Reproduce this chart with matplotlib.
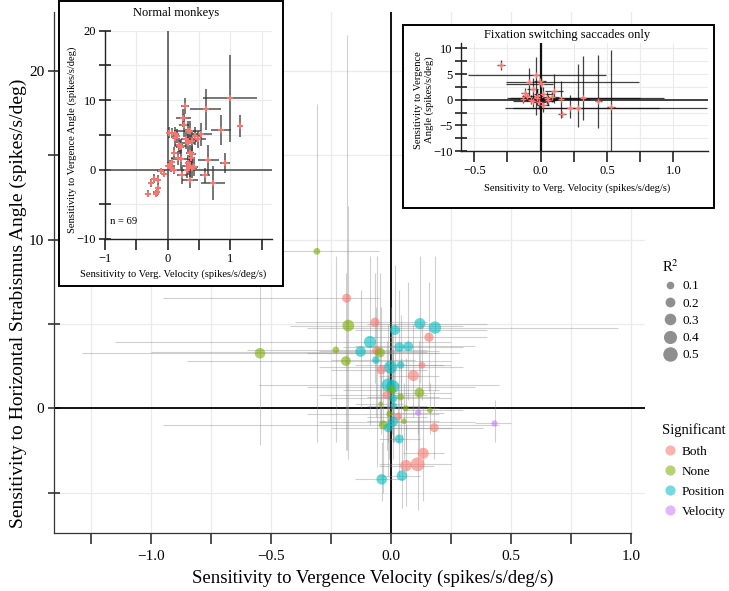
import matplotlib
matplotlib.use("Agg")
import matplotlib.pyplot as plt
import numpy as np
from matplotlib.lines import Line2D
from matplotlib.patches import Rectangle

plt.rcParams['font.family'] = ['Liberation Serif', 'DejaVu Serif']
plt.rcParams['mathtext.fontset'] = 'stix'

# ---------------- main data ----------------
main_x = [-0.186, -0.068, -0.179, 0.015, 0.119, 0.182, 0.157, -0.089, 0.033, 0.071,
          -0.231, -0.128, -0.061, -0.047, -0.547, -0.189, -0.064, 0.039, 0.128, -0.003,
          -0.042, 0.092, -0.013, 0.006, 0.001, -0.019, 0.117, 0.039, 0.008, -0.044,
          0.011, 0.060, 0.161, 0.112, -0.008, 0.028, 0.053, 0.008, -0.033, -0.013,
          0.179, 0.033, 0.133, 0.110, 0.061, 0.044, -0.040, -0.310, 0.430]
main_y = [6.52, 5.09, 4.90, 4.64, 5.02, 4.78, 4.21, 3.93, 3.63, 3.67,
          3.46, 3.36, 3.42, 3.30, 3.26, 2.80, 2.86, 2.57, 2.55, 2.43,
          2.27, 1.94, 1.38, 1.28, 1.09, 0.79, 0.93, 0.67, 0.59, 0.26,
          0.16, 0.00, -0.12, -0.26, -0.34, -0.49, -0.77, -0.79, -0.99, -1.15,
          -1.15, -1.82, -2.67, -3.32, -3.40, -3.99, -4.21, 9.30, -0.90]
main_sig = ['Both', 'Both', 'None', 'Position', 'Position', 'Position', 'Both', 'Position', 'Position', 'Position',
            'None', 'Position', 'Both', 'None', 'None', 'None', 'Position', 'Position', 'Both', 'Position',
            'Both', 'Both', 'Position', 'Position', 'None', 'Both', 'None', 'None', 'Position', 'None',
            'Position', 'None', 'None', 'Velocity', 'None', 'Both', 'None', 'Position', 'None', 'Position',
            'Both', 'Position', 'Both', 'Both', 'Both', 'Position', 'Position', 'None', 'Velocity']
main_r2 = [0.16, 0.18, 0.31, 0.21, 0.27, 0.35, 0.17, 0.33, 0.20, 0.20,
           0.07, 0.24, 0.16, 0.20, 0.24, 0.20, 0.10, 0.10, 0.07, 0.40,
           0.16, 0.27, 0.40, 0.40, 0.16, 0.13, 0.20, 0.07, 0.13, 0.01,
           0.05, 0.04, 0.03, 0.05, 0.05, 0.10, 0.03, 0.20, 0.16, 0.16,
           0.16, 0.16, 0.27, 0.45, 0.30, 0.24, 0.24, 0.07, 0.05]
main_xlo = [-0.95, -0.40, -0.42, -0.15, -0.10, -0.35, -0.10, -1.15, -0.20, -0.15,
            -0.60, -1.00, -0.30, -0.35, -1.29, -0.85, -0.25, -0.15, -0.05, -0.30,
            -0.25, -0.05, -0.55, -0.35, -0.20, -0.30, 0.00, -0.10, -0.25, -0.15,
            -0.10, -0.05, 0.05, 0.00, -0.35, -0.10, -0.10, -0.30, -0.95, -0.25,
            0.00, -0.05, 0.05, -0.05, -0.05, -0.05, -0.15, -0.55, 0.35]
main_xhi = [-0.05, 0.15, 0.30, 0.40, 0.40, 0.946, 0.40, 0.25, 0.30, 0.35,
            0.15, 0.15, 0.20, 0.28, 0.20, 0.25, 0.10, 0.22, 0.25, 0.30,
            0.15, 0.20, 0.45, 0.35, 0.20, 0.15, 0.25, 0.20, 0.25, 0.05,
            0.15, 0.20, 0.30, 0.22, 0.20, 0.15, 0.20, 0.35, 0.45, 0.25,
            0.38, 0.12, 0.22, 0.25, 0.18, 0.12, 0.05, -0.05, 0.50]
main_ylo = [-2.5, 1.5, -3.0, 1.0, 1.5, 1.0, 1.0, -1.0, 0.5, 0.5,
            -2.0, 0.0, -3.5, -1.0, -2.2, -2.5, -0.5, 0.0, 0.5, -1.0,
            -1.5, -0.5, -2.0, -2.0, -1.5, -2.5, -2.5, -1.5, -2.0, -1.0,
            -2.0, -2.5, -1.5, -1.5, -3.0, -2.0, -3.0, -3.0, -5.0, -4.0,
            -3.0, -4.0, -5.5, -6.0, -5.8, -5.9, -5.5, -2.0, -2.0]
main_yhi = [22.1, 8.0, 12.0, 8.5, 9.0, 9.0, 7.5, 9.0, 7.0, 7.5,
            9.0, 7.0, 9.0, 8.0, 7.5, 8.0, 6.0, 5.5, 5.0, 6.0,
            6.0, 5.0, 5.0, 4.5, 4.5, 4.0, 4.0, 3.0, 3.5, 2.0,
            2.5, 3.0, 1.5, 1.0, 2.5, 1.5, 1.5, 1.5, 2.5, 2.0,
            1.0, 0.5, 0.0, -0.5, -1.0, -1.5, -2.0, 18.0, 0.5]

# ---------------- inset 1 data (normal monkeys) ----------------
n1_x = [0.995, 1.154, 0.606, 0.846, 0.915, 0.650, 0.730, 0.600, 0.277, 0.250,
        0.266, 0.064, 0.117, 0.144, 0.020, 0.180, 0.213, 0.320, 0.356, 0.383,
        0.540, 0.490, 0.436, 0.330, 0.356, 0.096, 0.170, 0.213, 0.330, 0.356,
        0.383, 0.330, 0.303, 0.074, 0.037, 0.053, 0.096, 0.234, 0.356, 0.372,
        0.394, -0.319, -0.271, -0.213, -0.176, -0.149, -0.186, -0.106, -0.059, 0.010,
        -0.149, 0.120, 0.200, 0.300, 0.420]
n1_y = [10.27, 6.27, 8.67, 5.69, 0.96, 1.35, -1.93, -0.82, 9.16, 7.37,
        6.36, 5.30, 5.06, 4.80, 5.30, 3.60, 3.37, 5.54, 5.54, 4.10,
        5.06, 4.34, 4.82, 3.86, 2.41, 2.41, 1.69, 1.45, 0.96, 0.48,
        0.24, 0.48, 0.00, 1.06, 0.72, 0.24, 0.00, -0.82, -1.45, 1.69,
        2.17, -3.47, -1.93, -1.30, -3.23, -2.65, -3.47, -0.24, -0.58, 0.48,
        -1.45, 4.50, 3.20, 4.40, 0.30]
n1_xe = [0.43, 0.05, 0.25, 0.16, 0.08, 0.17, 0.19, 0.08, 0.06, 0.12,
         0.08, 0.05, 0.06, 0.06, 0.05, 0.07, 0.08, 0.22, 0.10, 0.10,
         0.17, 0.12, 0.10, 0.10, 0.06, 0.05, 0.06, 0.16, 0.06, 0.08,
         0.08, 0.10, 0.06, 0.05, 0.05, 0.05, 0.04, 0.08, 0.13, 0.06,
         0.06, 0.04, 0.05, 0.06, 0.05, 0.05, 0.05, 0.06, 0.05, 0.04,
         0.05, 0.05, 0.06, 0.08, 0.06]
n1_ye = [6.3, 1.6, 2.9, 2.2, 1.4, 2.2, 2.4, 1.1, 1.2, 1.3,
         1.6, 0.7, 1.0, 1.0, 0.8, 1.0, 1.0, 1.5, 1.5, 1.4,
         1.6, 1.2, 1.3, 1.5, 1.2, 0.8, 1.0, 1.4, 1.2, 1.9,
         1.4, 1.2, 1.2, 0.7, 0.6, 0.6, 0.7, 1.2, 1.2, 1.2,
         1.2, 0.5, 0.6, 0.6, 0.6, 0.6, 0.5, 0.4, 0.5, 0.6,
         0.6, 1.2, 1.0, 1.5, 1.2]
n1_label = "n = 69"

# ---------------- inset 2 data (fixation switching saccades) ----------------
f2_x = [-0.302, -0.035, -0.005, 0.005, -0.085, -0.118, -0.060, 0.103, 0.020, -0.030,
        0.045, 0.083, 0.151, 0.317, 0.435, 0.528, 0.221, 0.284, 0.158, -0.010,
        -0.055, 0.015, -0.075, -0.025, 0.058, -0.130, -0.105]
f2_y = [6.69, 4.87, 3.70, 3.12, 3.44, 1.30, 2.14, 1.62, 1.17, 0.32,
        0.32, 0.52, 0.13, 0.26, -0.19, -1.36, -1.69, -1.69, -2.86, -0.52,
        -0.32, -0.97, 0.00, 0.78, -0.13, 0.19, 0.65]
f2_xlo = [-0.33, -0.545, -0.05, -0.26, -0.26, -0.15, -0.10, 0.03, -0.05, -0.256,
          -0.23, 0.02, -0.08, 0.29, 0.41, 0.50, -0.21, -0.27, 0.13, -0.06,
          -0.21, -0.03, -0.12, -0.07, 0.00, -0.16, -0.14]
f2_xhi = [-0.27, 0.490, 0.04, 0.09, 0.74, -0.09, -0.02, 0.17, 0.09, 0.925,
          0.75, 0.14, 0.37, 0.35, 0.46, 0.56, 0.89, 1.25, 0.19, 0.04,
          0.10, 0.06, -0.03, 0.02, 0.12, -0.10, -0.07]
f2_ylo = [5.7, -2.9, 2.4, 2.0, 0.7, 0.4, 0.2, -0.6, 0.0, -1.0,
          -0.8, -0.5, -3.6, -4.0, -5.5, -10.1, -3.5, -5.4, -3.3, -1.8,
          -1.5, -2.3, -0.8, -0.3, -1.0, -0.6, 0.0]
f2_yhi = [7.7, 8.25, 5.0, 4.5, 6.2, 2.2, 4.3, 5.0, 2.5, 2.0,
          1.6, 1.5, 3.6, 8.6, 8.8, 9.7, 1.0, 6.9, -2.4, 0.7,
          1.0, 0.3, 1.0, 2.0, 1.0, 1.0, 1.4]

sig_levels = ['Both', 'None', 'Position', 'Velocity']
sig_colors = {'Both': '#F8766D', 'None': '#7CAE00', 'Position': '#00BFC4', 'Velocity': '#C77CFF'}
r2_breaks = [0.1, 0.2, 0.3, 0.4, 0.5]

# ---------------- figure ----------------
W, H = 729, 591
fig = plt.figure(figsize=(W / 100, H / 100), dpi=100)


def fx(px):
    return px / W


def fy(py):
    return 1 - py / H


def diam(r2):
    return np.sqrt(20 + 380 * np.asarray(r2, float))   # diameter in px


def size_of(r2):
    return (diam(r2) * 0.72) ** 2


GRID = '#EBEBEB'
AXC = '#333333'

# ---- main axes ----
ax = fig.add_axes([fx(54.3), fy(533), fx(645) - fx(54.3), fy(12) - fy(533)])
ax.set_xlim(-1.404, 1.057)
ax.set_ylim(-7.39, 23.48)
xt = np.arange(-1.25, 1.001, 0.25)
ax.set_xticks(xt)
ax.set_xticklabels(['' if abs((v * 2) - round(v * 2)) > 1e-6 else ('%.1f' % v).replace('-', '\u2212') for v in xt])
yt = np.arange(-5, 20.1, 5)
ax.set_yticks(yt)
ax.set_yticklabels(['%d' % v if v % 10 == 0 else '' for v in yt])
ax.tick_params(axis='x', direction='out', length=8, width=1.1, color='#222222', labelsize=11, pad=4)
ax.tick_params(axis='y', direction='inout', length=8.6, width=1.1, color='#222222', labelsize=11, pad=3)
for s in ['top', 'right']:
    ax.spines[s].set_visible(False)
ax.spines['left'].set_color(AXC)
ax.spines['bottom'].set_color(AXC)
ax.spines['left'].set_linewidth(0.9)
ax.spines['bottom'].set_linewidth(0.9)
ax.spines['bottom'].set_bounds(-1.404, 1.0)
ax.grid(True, color=GRID, lw=0.9, zorder=0)
ax.set_axisbelow(True)
ax.axhline(0, color='black', lw=1.3, zorder=2)
ax.axvline(0, color='black', lw=1.3, zorder=2)

ax.hlines(main_y, main_xlo, main_xhi, color='#8a8a8a', alpha=0.4, lw=0.8, zorder=3)
ax.vlines(main_x, main_ylo, main_yhi, color='#8a8a8a', alpha=0.4, lw=0.8, zorder=3)
cols = [sig_colors[s] for s in main_sig]
ax.scatter(main_x, main_y, s=size_of(main_r2), c=cols, alpha=0.6, linewidths=0, zorder=4)

fig.text(fx(373), fy(578), 'Sensitivity to Vergence Velocity (spikes/s/deg/s)', ha='center', va='center',
         fontsize=13.5)
fig.text(fx(18), fy(303), 'Sensitivity to Horizontal Strabismus Angle (spikes/s/deg)', ha='center', va='center',
         rotation=90, fontsize=14)

# ---- legends ----
h_r2 = [Line2D([], [], ls='', marker='o', markersize=diam(r) * 0.72,
               markerfacecolor='#444444', markeredgewidth=0, alpha=0.6) for r in r2_breaks]
leg1 = fig.legend(h_r2, ['%.1f' % r for r in r2_breaks], title='R$^2$', loc='upper left',
                  bbox_to_anchor=(fx(655), fy(252)), frameon=False, fontsize=9.5, title_fontsize=10.5,
                  alignment='left', handletextpad=0.25, labelspacing=0.38, handlelength=1.3, borderpad=0)
h_sig = [Line2D([], [], ls='', marker='o', markersize=8.5 * 0.72 * 1.2,
                markerfacecolor=sig_colors[s], markeredgewidth=0, alpha=0.55) for s in sig_levels]
leg2 = fig.legend(h_sig, sig_levels, title='Significant', loc='upper left',
                  bbox_to_anchor=(fx(655), fy(417)), frameon=False, fontsize=9.5, title_fontsize=10.5,
                  alignment='left', handletextpad=0.25, labelspacing=0.6, handlelength=1.3, borderpad=0)


def inset_common(a, xticks, xlabels, yticks, ylabels):
    a.set_facecolor('white')
    a.set_xticks(xticks)
    a.set_xticklabels(xlabels)
    a.set_yticks(yticks)
    a.set_yticklabels(ylabels)
    for s in ['top', 'right']:
        a.spines[s].set_visible(False)
    for s in ['left', 'bottom']:
        a.spines[s].set_color('#222222')
        a.spines[s].set_linewidth(1.0)
    a.grid(True, color=GRID, lw=0.8)
    a.set_axisbelow(True)
    a.tick_params(axis='x', direction='out', length=8, width=1.2, color='#222222', labelsize=9, pad=2)
    a.tick_params(axis='y', direction='inout', length=9, width=1.2, color='#222222', labelsize=9, pad=2)


# ---- inset 1 ----
fig.patches.append(Rectangle((fx(59), fy(286)), fx(283) - fx(59), fy(0.8) - fy(286), transform=fig.transFigure,
                             facecolor='white', edgecolor='black', lw=1.4, zorder=2))
a1 = fig.add_axes([fx(105), fy(239), fx(272.3) - fx(105), fy(30.7) - fy(239)], zorder=3)
a1.set_xlim(-1, 1.67)
a1.set_ylim(-10, 20)
inset_common(a1, [-1, -0.5, 0, 0.5, 1, 1.5], ['\u22121', '', '0', '', '1', ''],
             [-10, -5, 0, 5, 10, 15, 20], ['\u221210', '', '0', '', '10', '', '20'])
a1.axhline(0, color='#555555', lw=1.2, zorder=1)
a1.axvline(0, color='#555555', lw=1.2, zorder=1)
a1.errorbar(n1_x, n1_y, xerr=n1_xe, yerr=n1_ye, fmt='none', ecolor='#3a3a3a', alpha=0.75, elinewidth=1.3, zorder=2)
a1.plot(n1_x, n1_y, ls='', marker='+', color='#F8766D', markersize=5, mew=1.4, zorder=3)
fig.text(fx(176), fy(13), 'Normal monkeys', ha='center', va='center', fontsize=9)
fig.text(fx(173), fy(274), 'Sensitivity to Verg. Velocity (spikes/s/deg/s)', ha='center', va='center', fontsize=7.6)
fig.text(fx(72), fy(140), 'Sensitivity to Vergence Angle (spikes/s/deg)', ha='center', va='center',
         rotation=90, fontsize=7.6)
fig.text(fx(110), fy(222), n1_label, ha='left', va='center', fontsize=7.6)

# ---- inset 2 ----
fig.patches.append(Rectangle((fx(402.7), fy(208.3)), fx(714) - fx(402.7), fy(25) - fy(208.3), transform=fig.transFigure,
                             facecolor='white', edgecolor='black', lw=1.4, zorder=2))
a2 = fig.add_axes([fx(461), fy(151), fx(708) - fx(461), fy(43.3) - fy(151)], zorder=3)
a2.set_xlim(-0.6, 1.26)
a2.set_ylim(-10, 11)
inset_common(a2, [-0.5, -0.25, 0, 0.25, 0.5, 0.75, 1.0], ['\u22120.5', '', '0.0', '', '0.5', '', '1.0'],
             [-10, -7.5, -5, -2.5, 0, 2.5, 5, 7.5, 10], ['\u221210', '', '\u22125', '', '0', '', '5', '', '10'])
a2.tick_params(axis='y', length=8)
a2.axhline(0, color='#222222', lw=1.2, zorder=1)
a2.axvline(0, color='#111111', lw=1.6, zorder=1)
a2.hlines(f2_y, f2_xlo, f2_xhi, color='#111111', alpha=0.8, lw=0.9, zorder=2)
a2.vlines(f2_x, f2_ylo, f2_yhi, color='#111111', alpha=0.8, lw=0.9, zorder=2)
a2.plot(f2_x, f2_y, ls='', marker='+', color='#F8766D', markersize=4, mew=1.0, zorder=3)
fig.text(fx(566.7), fy(35), 'Fixation switching saccades only', ha='center', va='center', fontsize=9)
fig.text(fx(576.7), fy(188.3), 'Sensitivity to Verg. Velocity (spikes/s/deg/s)', ha='center', va='center', fontsize=7.6)
fig.text(fx(424), fy(100), 'Sensitivity to Vergence\nAngle (spikes/s/deg)', ha='center', va='center',
         rotation=90, fontsize=7.6, linespacing=1.1)

fig.savefig('out.png', dpi=100)
